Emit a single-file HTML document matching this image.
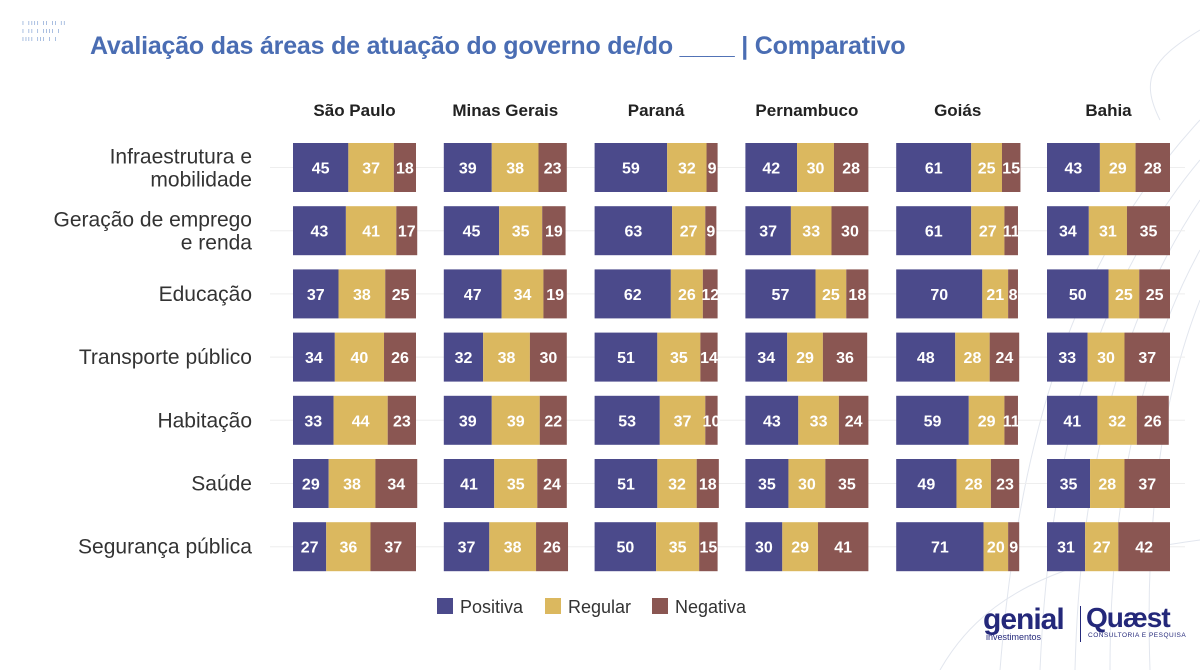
<!DOCTYPE html>
<html><head><meta charset="utf-8">
<style>
body{margin:0;width:1200px;height:670px;background:#fff;overflow:hidden;font-family:"Liberation Sans",sans-serif;position:relative}
#t{position:absolute;left:90px;top:32px;font-size:25px;font-weight:bold;color:#4a6db3;letter-spacing:-0.2px}
.dots{position:absolute;left:22px;font-size:7px;color:#7a9bd0;letter-spacing:1px;line-height:8px}
</style></head><body>
<div class="dots" style="top:20px">ı ıııı ıı ıı ıı<br>ı ıı ı ıııı ı<br>ıııı ııı ı ı</div>
<div id="t">Avaliação das áreas de atuação do governo de/do ____ | Comparativo</div>
<svg id="c" width="1200" height="670" style="position:absolute;left:0;top:0">
<g stroke="#e2e6ee" fill="none" stroke-width="1">
<path d="M1200 120 C1080 250 1020 420 1000 670"/><path d="M1200 160 C1100 280 1050 440 1040 670"/><path d="M1200 200 C1120 320 1080 470 1075 670"/><path d="M1200 250 C1140 360 1110 500 1110 670"/><path d="M1200 300 C1160 400 1145 530 1150 670"/><path d="M1200 30 C1150 60 1140 80 1160 120"/><path d="M940 670 C980 600 1050 560 1200 540"/>
</g>
</svg>
<div style="position:absolute;left:983px;top:603px;color:#24287a;font-weight:bold;font-size:30px;letter-spacing:-1px">genial</div>
<div style="position:absolute;left:986px;top:632px;color:#24287a;font-size:9px">investimentos</div>
<div style="position:absolute;left:1080px;top:606px;width:1px;height:36px;background:#24287a"></div>
<div style="position:absolute;left:1086px;top:602px;color:#24287a;font-weight:bold;font-size:28px;letter-spacing:-1px">Quæst</div>
<div style="position:absolute;left:1088px;top:632px;color:#24287a;font-size:6.5px;letter-spacing:0.5px">CONSULTORIA E PESQUISA</div>
<script>
const states=["São Paulo","Minas Gerais","Paraná","Pernambuco","Goiás","Bahia"];
const categories=[["Infraestrutura e","mobilidade"],["Geração de emprego","e renda"],["Educação"],["Transporte público"],["Habitação"],["Saúde"],["Segurança pública"]];
const positiva=[[45,43,37,34,33,29,27],[39,45,47,32,39,41,37],[59,63,62,51,53,51,50],[42,37,57,34,43,35,30],[61,61,70,48,59,49,71],[43,34,50,33,41,35,31]];
const regular=[[37,41,38,40,44,38,36],[38,35,34,38,39,35,38],[32,27,26,35,37,32,35],[30,33,25,29,33,30,29],[25,27,21,28,29,28,20],[29,31,25,30,32,28,27]];
const negativa=[[18,17,25,26,23,34,37],[23,19,19,30,22,24,26],[9,9,12,14,10,18,15],[28,30,18,36,24,35,41],[15,11,8,24,11,23,9],[28,35,25,37,26,37,42]];
const colors=["#4b4a8b","#dbb85f","#8a5652"];
const NS="http://www.w3.org/2000/svg";
const svg=document.getElementById('c');
const px0=293,pstep=150.8,unit=1.23,ry0=143,rstep=63.2,bh=49;
const xPanel=i=>px0+i*pstep, yRow=j=>ry0+j*rstep, w=v=>v*unit;
function mk(tag,a,txt){const e=document.createElementNS(NS,tag);for(const k in a)e.setAttribute(k,a[k]);if(txt!==undefined)e.textContent=txt;svg.appendChild(e);return e;}
categories.forEach((c,j)=>{
 const l=mk('line',{x1:270,x2:1185,y1:yRow(j)+bh/2,y2:yRow(j)+bh/2,stroke:'#eee'});
 
 
 const cy=yRow(j)+bh/2;
 c.forEach((line,k)=>{
  const t=mk('text',{x:252,y:cy+7+(c.length===2?(k===0?-11:12):0),'text-anchor':'end','font-size':21,fill:'#333','font-weight':300},line);
  
  
 });
});
states.forEach((s,i)=>{
 const h=mk('text',{x:xPanel(i)+61.5,y:116,'text-anchor':'middle','font-size':17,'font-weight':'bold',fill:'#222'},s);
 
 
 categories.forEach((c,j)=>{
  let x=xPanel(i);
  [positiva[i][j],regular[i][j],negativa[i][j]].forEach((v,k)=>{
   const r=mk('rect',{x:x,y:yRow(j),width:w(v),height:bh,fill:colors[k]});
   
   
   const t=mk('text',{x:x+w(v)/2,y:yRow(j)+bh/2+6,'text-anchor':'middle','font-size':16,'font-weight':'bold',fill:'#fff'},v);
   
   
   x+=w(v);
  });
 });
});
const leg=["Positiva","Regular","Negativa"],lx=[437,545,652];
leg.forEach((n,k)=>{
 const r=mk('rect',{x:lx[k],y:598,width:16,height:16,fill:colors[k]});
 
 
 const t=mk('text',{x:lx[k]+23,y:613,'font-size':18,fill:'#333'},n);
 
 
});
</script>
</body></html>
